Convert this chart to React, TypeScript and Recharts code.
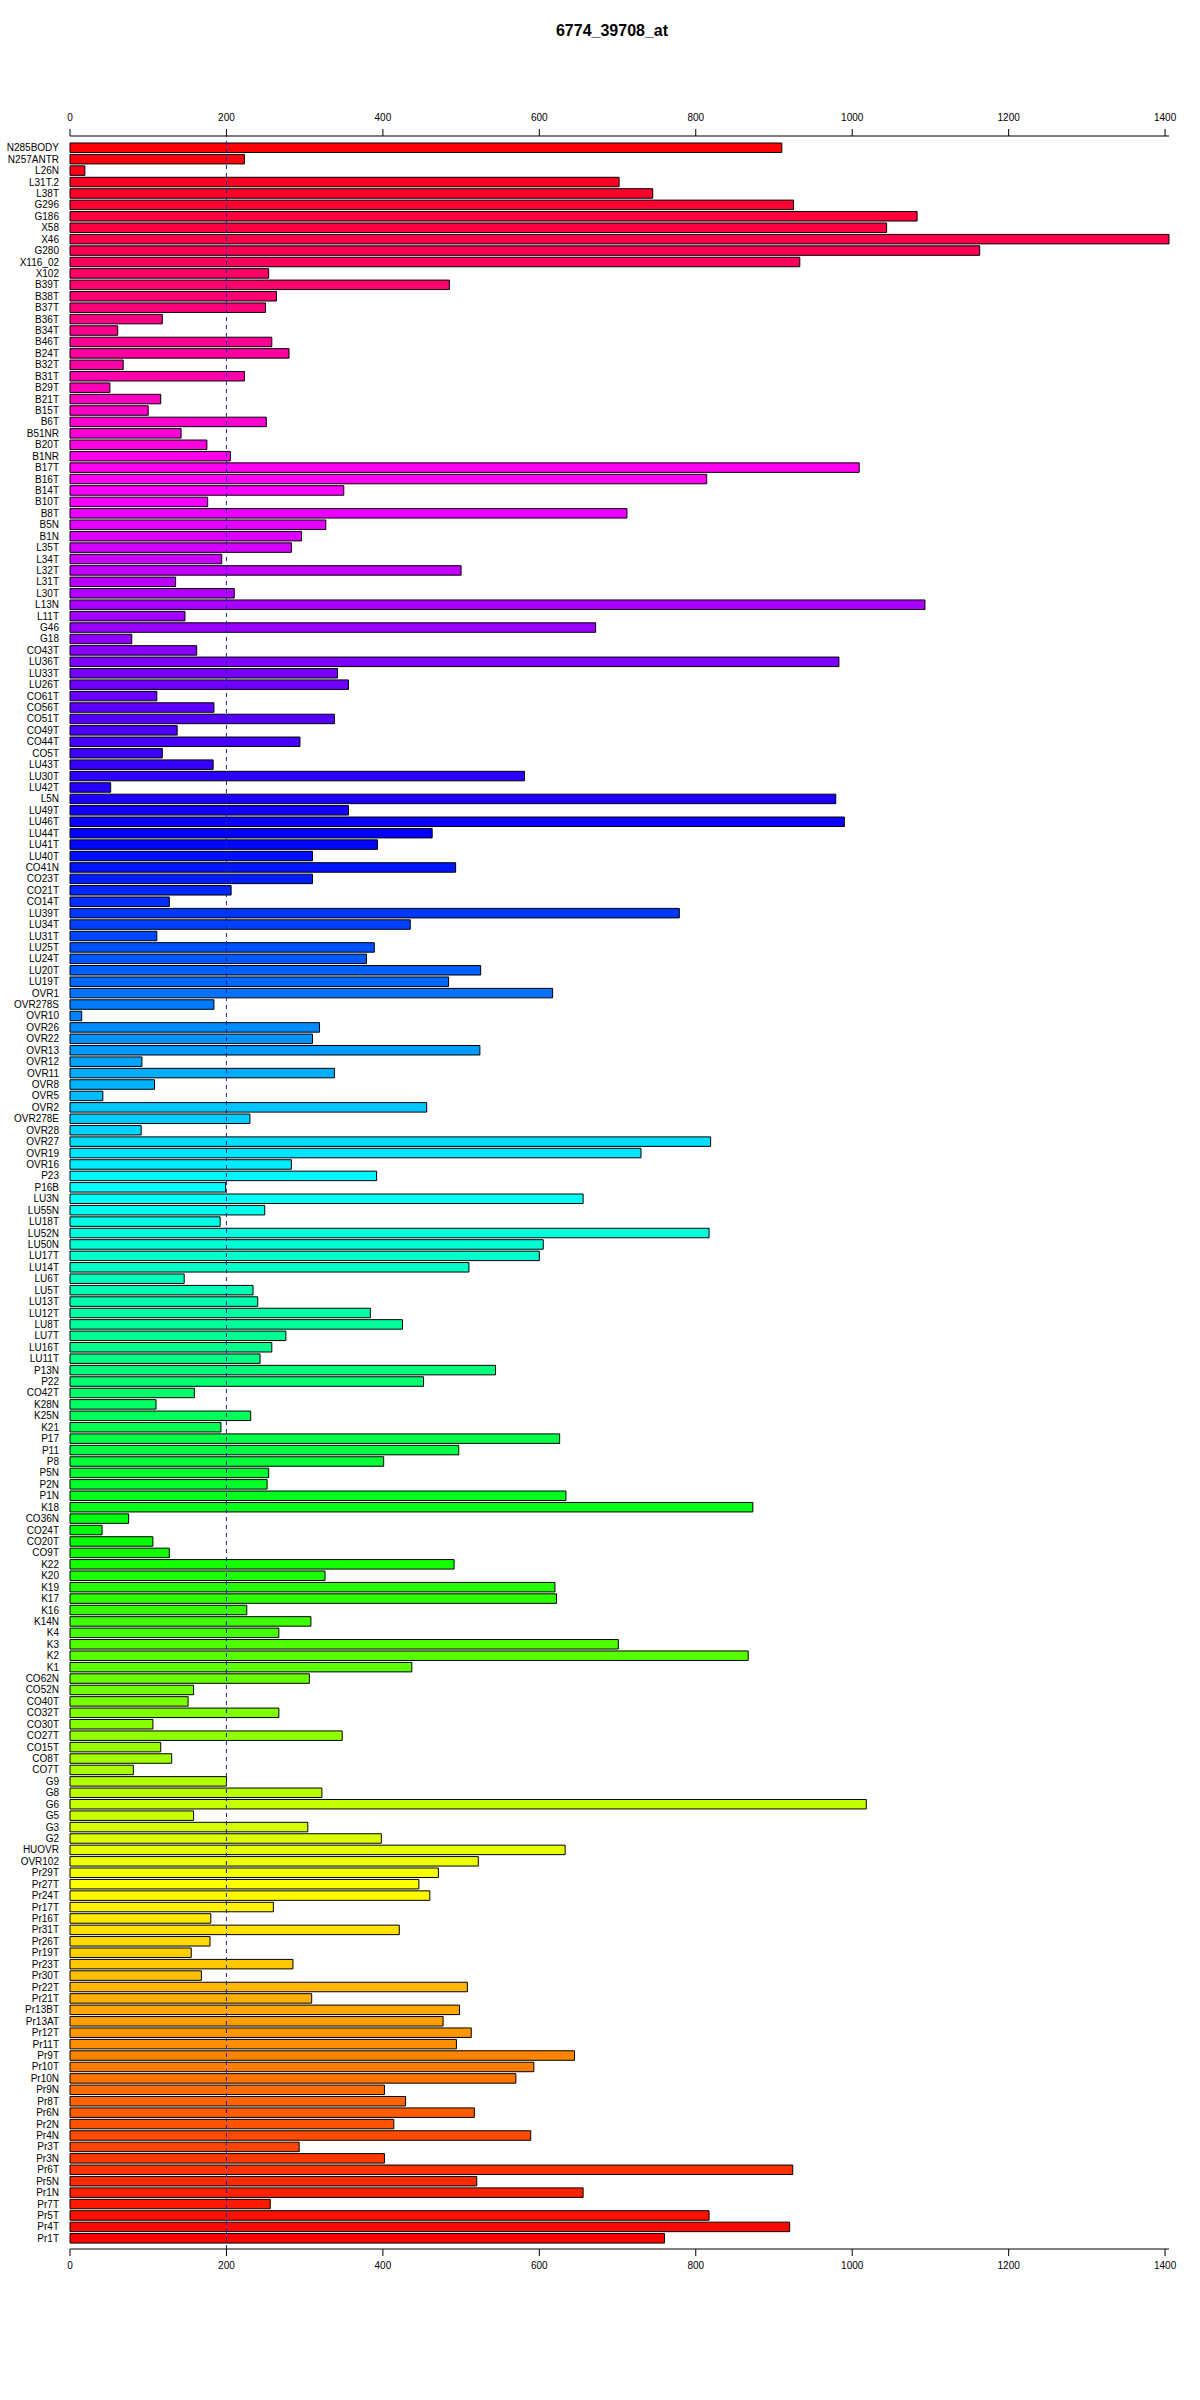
import { BarChart, Bar, XAxis, YAxis, Cell, ReferenceLine } from "recharts";

const title = "6774_39708_at";

const labels = [
  "N285BODY", "N257ANTR", "L26N", "L31T.2", "L38T", "G296", "G186", "X58", "X46", "G280",
  "X116_02", "X102", "B39T", "B38T", "B37T", "B36T", "B34T", "B46T", "B24T", "B32T",
  "B31T", "B29T", "B21T", "B15T", "B6T", "B51NR", "B20T", "B1NR", "B17T", "B16T",
  "B14T", "B10T", "B8T", "B5N", "B1N", "L35T", "L34T", "L32T", "L31T", "L30T",
  "L13N", "L11T", "G46", "G18", "CO43T", "LU36T", "LU33T", "LU26T", "CO61T", "CO56T",
  "CO51T", "CO49T", "CO44T", "CO5T", "LU43T", "LU30T", "LU42T", "L5N", "LU49T", "LU46T",
  "LU44T", "LU41T", "LU40T", "CO41N", "CO23T", "CO21T", "CO14T", "LU39T", "LU34T", "LU31T",
  "LU25T", "LU24T", "LU20T", "LU19T", "OVR1", "OVR278S", "OVR10", "OVR26", "OVR22", "OVR13",
  "OVR12", "OVR11", "OVR8", "OVR5", "OVR2", "OVR278E", "OVR28", "OVR27", "OVR19", "OVR16",
  "P23", "P16B", "LU3N", "LU55N", "LU18T", "LU52N", "LU50N", "LU17T", "LU14T", "LU6T",
  "LU5T", "LU13T", "LU12T", "LU8T", "LU7T", "LU16T", "LU11T", "P13N", "P22", "CO42T",
  "K28N", "K25N", "K21", "P17", "P11", "P8", "P5N", "P2N", "P1N", "K18",
  "CO36N", "CO24T", "CO20T", "CO9T", "K22", "K20", "K19", "K17", "K16", "K14N",
  "K4", "K3", "K2", "K1", "CO62N", "CO52N", "CO40T", "CO32T", "CO30T", "CO27T",
  "CO15T", "CO8T", "CO7T", "G9", "G8", "G6", "G5", "G3", "G2", "HUOVR",
  "OVR102", "Pr29T", "Pr27T", "Pr24T", "Pr17T", "Pr16T", "Pr31T", "Pr26T", "Pr19T", "Pr23T",
  "Pr30T", "Pr22T", "Pr21T", "Pr13BT", "Pr13AT", "Pr12T", "Pr11T", "Pr9T", "Pr10T", "Pr10N",
  "Pr9N", "Pr8T", "Pr6N", "Pr2N", "Pr4N", "Pr3T", "Pr3N", "Pr6T", "Pr5N", "Pr1N",
  "Pr7T", "Pr5T", "Pr4T", "Pr1T",
];

const values = [
  910, 223, 19, 702, 745, 925, 1083, 1044, 1405, 1163,
  933, 254, 485, 264, 250, 118, 61, 258, 280, 68,
  223, 51, 116, 100, 251, 142, 175, 205, 1009, 814,
  350, 176, 712, 327, 296, 283, 194, 500, 135, 210,
  1093, 147, 672, 79, 162, 983, 342, 356, 111, 184,
  338, 137, 294, 118, 183, 581, 52, 979, 356, 990,
  463, 393, 310, 493, 310, 206, 127, 779, 435, 111,
  389, 379, 525, 484, 617, 184, 15, 319, 310, 524,
  92, 338, 108, 42, 456, 230, 91, 819, 730, 283,
  392, 199, 656, 249, 192, 817, 605, 600, 510, 146,
  234, 240, 384, 425, 276, 258, 243, 544, 452, 159,
  110, 231, 193, 626, 497, 401, 254, 252, 634, 873,
  75, 41, 106, 127, 491, 326, 620, 622, 226, 308,
  267, 701, 867, 437, 306, 158, 151, 267, 106, 348,
  116, 130, 81, 200, 322, 1018, 158, 304, 398, 633,
  522, 471, 446, 460, 260, 180, 421, 179, 155, 285,
  168, 508, 309, 498, 477, 513, 494, 645, 593, 570,
  402, 429, 517, 414, 589, 293, 402, 924, 520, 656,
  256, 817, 920, 760,
];

const xTicks = [0, 200, 400, 600, 800, 1000, 1200, 1400];

const data = labels.map((name, i) => ({ name, value: values[i] }));

// same as R rainbow(n); R puts its first bar at the bottom
function rainbowColor(i: number, n: number) {
  const h = ((n - 1 - i) / n) * 6;
  const k = Math.floor(h) % 6;
  const f = h - Math.floor(h);
  const rgb = [
    [1, f, 0],
    [1 - f, 1, 0],
    [0, 1, f],
    [0, 1 - f, 1],
    [f, 0, 1],
    [1, 0, 1 - f],
  ][k];
  return (
    "#" +
    rgb
      .map((c) => Math.round(c * 255).toString(16).padStart(2, "0"))
      .join("")
  );
}

const font = "'Liberation Sans', Arial, sans-serif";
const tickStyle = { fontSize: 10, fill: "#000", fontFamily: font };

export default function App() {
  return (
    <div
      style={{
        position: "absolute",
        left: 0,
        top: 0,
        width: 1200,
        height: 2400,
        background: "#fff",
      }}
    >
      <div
        style={{
          position: "absolute",
          top: 22,
          left: 0,
          width: 1224,
          textAlign: "center",
          fontFamily: font,
          fontWeight: "bold",
          fontSize: 16,
          lineHeight: "18px",
        }}
      >
        {title}
      </div>
      <div style={{ position: "absolute", left: 0, top: 0 }}>
        <BarChart
          width={1200}
          height={2400}
          data={data}
          layout="vertical"
          margin={{ top: 136, right: 31, bottom: 121, left: 0 }}
          barSize={9.5}
        >
          <XAxis
            orientation="bottom"
            type="number"
            domain={[0, 1405]}
            ticks={xTicks}
            height={30}
            stroke="#000"
            tickSize={7}
            tickMargin={6}
            tick={tickStyle}
          />
          <YAxis
            type="category"
            dataKey="name"
            width={70}
            interval={0}
            axisLine={false}
            tickLine={false}
            tickSize={6}
            tickMargin={5}
            padding={{ top: 6, bottom: 5 }}
            tick={tickStyle}
          />
          <Bar
            dataKey="value"
            stroke="#000"
            strokeWidth={1}
            isAnimationActive={false}
          >
            {data.map((d, i) => (
              <Cell key={d.name} fill={rainbowColor(i, data.length)} />
            ))}
          </Bar>
          <ReferenceLine x={200} stroke="#2020a0" strokeDasharray="4 4" />
        </BarChart>
      </div>
      {/* second chart only carries the top axis */}
      <div
        style={{ position: "absolute", left: 0, top: 0, pointerEvents: "none" }}
      >
        <BarChart
          width={1200}
          height={2400}
          data={data}
          layout="vertical"
          margin={{ top: 106, right: 31, bottom: 151, left: 70 }}
          barSize={9.5}
        >
          <XAxis
            orientation="top"
            type="number"
            domain={[0, 1405]}
            ticks={xTicks}
            height={30}
            stroke="#000"
            tickSize={7}
            tickMargin={8}
            tick={tickStyle}
          />
          <YAxis type="category" dataKey="name" hide />
          <Bar
            dataKey="value"
            fill="none"
            stroke="none"
            isAnimationActive={false}
          />
        </BarChart>
      </div>
    </div>
  );
}
